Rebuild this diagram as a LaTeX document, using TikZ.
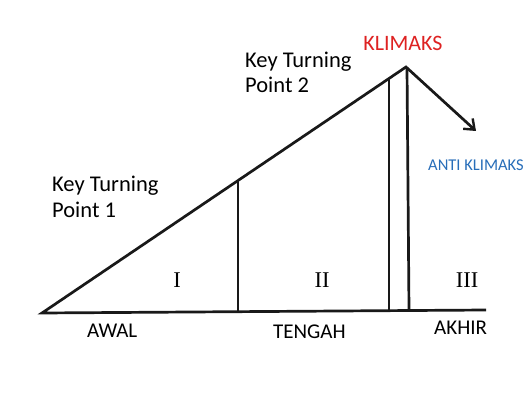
\documentclass[tikz,border=0pt]{standalone}
\usepackage{fontspec}
\setmainfont{Carlito}
\newfontfamily\romanfont{Liberation Serif}
\usetikzlibrary{arrows.meta}
\definecolor{klred}{RGB}{222,34,34}
\definecolor{klblue}{RGB}{40,110,185}
\tikzset{
  plotline/.style={line width=2.7pt, line join=miter, black!90},
  lbl/.style={font=\fontsize{21}{26}\selectfont, inner sep=0pt, align=left},
  numeral/.style={font=\romanfont\fontsize{22.5}{26}\selectfont, inner sep=0pt, anchor=base},
}
\begin{document}
\begin{tikzpicture}[x=1pt,y=-1pt]
\useasboundingbox[fill=white] (0,0) rectangle (529,398);
\coordinate (A) at (42,313);
\coordinate (B) at (486,310);
\coordinate (C) at (406,67);
\coordinate (D) at (476,131);
\coordinate (v1t) at (238,180.5);
\coordinate (v1b) at (238,311.5);
\coordinate (v2t) at (389,78.5);
\coordinate (v2b) at (389,310.5);
\coordinate (v3t) at (407,68);
\coordinate (v3b) at (409,310.3);
\draw[plotline, -{Straight Barb[length=9pt,width=14pt,line width=2.4pt]}] (B) -- (A) -- (C) -- (D);
\draw[plotline] (v1t) -- (v1b);
\draw[plotline] (v2t) -- (v2b);
\draw[plotline] (v3t) -- (v3b);
\node[lbl, text=klred, font=\fontsize{22}{26}\selectfont, anchor=base] (klimaks) at (403,51) {KLIMAKS};
\node[lbl, text=klblue, font=\fontsize{16.5}{20}\selectfont, anchor=base west] (anti) at (428,170) {ANTI KLIMAKS};
\node[lbl, font=\fontsize{22.5}{25.5}\selectfont, anchor=base west] (ktp2) at (245,93) {Key Turning\\Point 2};
\node[lbl, font=\fontsize{22.5}{26}\selectfont, anchor=base west] (ktp1) at (52,217) {Key Turning\\Point 1};
\node[numeral] (n1) at (177,287) {I};
\node[numeral] (n2) at (322,287) {II};
\node[numeral] (n3) at (467,287) {III};
\node[lbl, anchor=base west] (awal) at (87,337) {AWAL};
\node[lbl, anchor=base west] (tengah) at (273,338) {TENGAH};
\node[lbl, anchor=base west] (akhir) at (434,334) {AKHIR};
\end{tikzpicture}
\end{document}
